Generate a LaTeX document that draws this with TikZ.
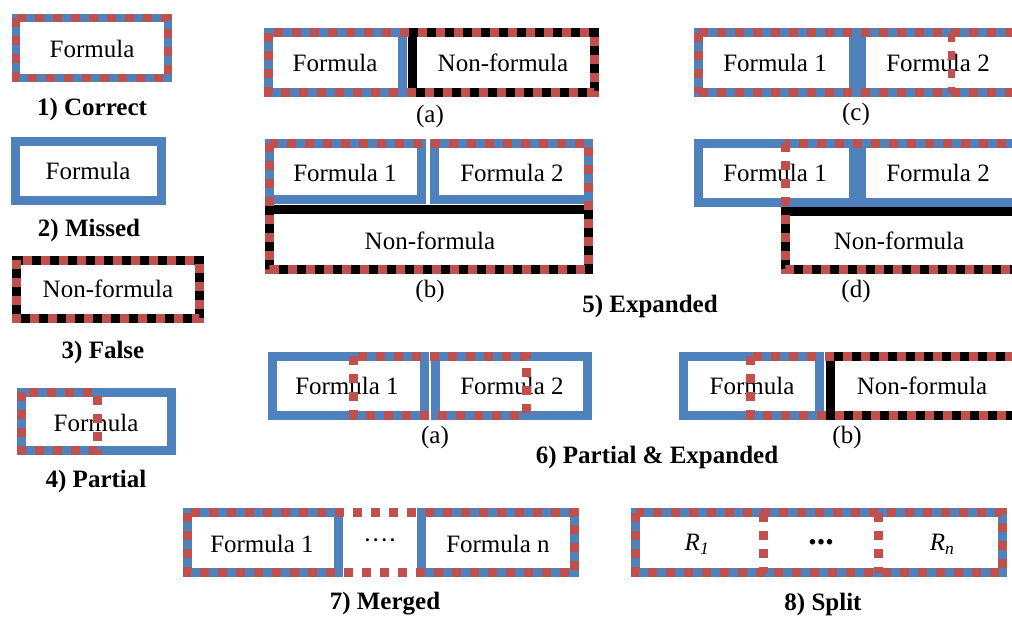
\documentclass[tikz,border=0pt]{standalone}
\usepackage{fontspec}
\setmainfont{Liberation Serif}
\definecolor{fblue}{HTML}{4F81BD}
\definecolor{dred}{HTML}{C0504D}
\tikzset{
  fbox/.style={draw=fblue,line width=9pt},
  nbox/.style={draw=black,line width=9pt},
  dbox/.style={draw=dred,line width=9pt,dash pattern=on 9pt off 9pt},
  lbl/.style={font=\fontsize{25}{30}\selectfont},
  capt/.style={font=\fontsize{25}{30}\selectfont\bfseries},
}
\begin{document}
\begin{tikzpicture}[x=1pt,y=-1pt]
\clip (0,0) rectangle (1012,619);
\draw[fbox,line width=8pt] (16,18) rectangle (168,78);
\draw[fbox] (15.5,141) rectangle (161.5,200.5);
\draw[nbox] (16,260) rectangle (199.5,318.5);
\draw[fbox] (21.5,392) rectangle (171.5,450.5);
\draw[fbox] (268,32.5) rectangle (402.5,92);
\draw[nbox] (412.5,32.5) rectangle (594,92);
\draw[fbox] (269.5,143) rectangle (421.5,199.5);
\draw[fbox] (434.5,143) rectangle (588.5,199.5);
\draw[nbox] (269.5,209) rectangle (588.5,269);
\draw[fbox] (698.5,32.5) rectangle (853.5,92.5);
\draw[fbox] (861.5,32.5) rectangle (1030,92.5);
\draw[fbox] (698.5,143) rectangle (853,202.5);
\draw[fbox] (861.5,143) rectangle (1030,202.5);
\draw[nbox] (785,211) rectangle (1030,269.5);
\draw[fbox] (272.5,356) rectangle (424.5,415);
\draw[fbox] (435.5,356) rectangle (587,415);
\draw[fbox] (683.5,356) rectangle (819.5,415);
\draw[nbox] (830.5,356) rectangle (1030,415);
\draw[fbox] (187.5,512.5) rectangle (338.5,572.5);
\draw[fbox] (421.5,512.5) rectangle (574.5,572.5);
\draw[fbox] (635.5,512.5) rectangle (1002.5,572.5);
\node[lbl] (cor) at (92,49) {Formula};
\node[capt] (corcap) at (92,109) {1) Correct};
\node[lbl] (mis) at (88,171) {Formula};
\node[capt] (miscap) at (89,230) {2) Missed};
\node[lbl] (fal) at (108,289) {Non-formula};
\node[capt] (falcap) at (103,352) {3) False};
\node[lbl] (par) at (96,423) {Formula};
\node[capt] (parcap) at (96,481) {4) Partial};
\node[lbl] (expa) at (335,63) {Formula};
\node[lbl] (expanon) at (503,63) {Non-formula};
\node[lbl] (expasub) at (430,116) {(a)};
\node[lbl] (expbone) at (345,173) {Formula 1};
\node[lbl] (expbtwo) at (512,173) {Formula 2};
\node[lbl] (expbnon) at (430,241) {Non-formula};
\node[lbl] (expbsub) at (430,291) {(b)};
\node[lbl] (expcone) at (775,63) {Formula 1};
\node[lbl] (expctwo) at (938,63) {Formula 2};
\node[lbl] (expcsub) at (856,114) {(c)};
\node[lbl] (expdone) at (775,173) {Formula 1};
\node[lbl] (expdtwo) at (938,173) {Formula 2};
\node[lbl] (expdnon) at (899,241) {Non-formula};
\node[lbl] (expdsub) at (856,291) {(d)};
\node[capt] (expcap) at (650,306) {5) Expanded};
\node[lbl] (paone) at (347,386) {Formula 1};
\node[lbl] (patwo) at (512,386) {Formula 2};
\node[lbl] (pasub) at (435,437) {(a)};
\node[lbl] (pbf) at (752,386) {Formula};
\node[lbl] (pbnon) at (922,386) {Non-formula};
\node[lbl] (pbsub) at (847,437) {(b)};
\node[capt] (pecap) at (657,457) {6) Partial \& Expanded};
\node[lbl] (merone) at (262,544) {Formula 1};
\node[lbl] (merdots) at (380,544) {····};
\node[lbl] (mern) at (498,544) {Formula n};
\node[capt] (mercap) at (385,604) {7) Merged};
\node[lbl] (splone) at (697,544) {\itshape R\textsubscript{1}};
\node[lbl] (spldots) at (821,542) {\fontsize{34}{40}\selectfont\bfseries ...};
\node[lbl] (spln) at (942,544) {\itshape R\textsubscript{n}};
\node[capt] (splcap) at (823,604) {8) Split};
\draw[dbox,line width=8pt] (16,18) rectangle (168,78);
\draw[dbox] (16,260) rectangle (199.5,318.5);
\draw[dbox] (21.5,392) rectangle (97,450.5);
\draw[dbox] (268,32.5) rectangle (594,92);
\draw[dbox] (269.5,143) rectangle (588.5,269);
\draw[dbox] (698.5,32.5) -- (1030,32.5) (698.5,92.5) -- (1030,92.5);
\draw[dbox] (698.5,32.5) -- (698.5,92.5);
\draw[dbox,line width=7pt] (951,32.5) -- (951,92.5);
\draw[dbox] (785,143) rectangle (1030,269.5);
\draw[dbox] (353,356) rectangle (526,415);
\draw[dbox] (750,356) rectangle (1030,415);
\draw[dbox] (187.5,512.5) rectangle (574.5,572.5);
\draw[dbox] (635.5,512.5) rectangle (1002.5,572.5);
\draw[dbox] (763,512.5) -- (763,572.5);
\draw[dbox] (878,512.5) -- (878,572.5);
\end{tikzpicture}
\end{document}
